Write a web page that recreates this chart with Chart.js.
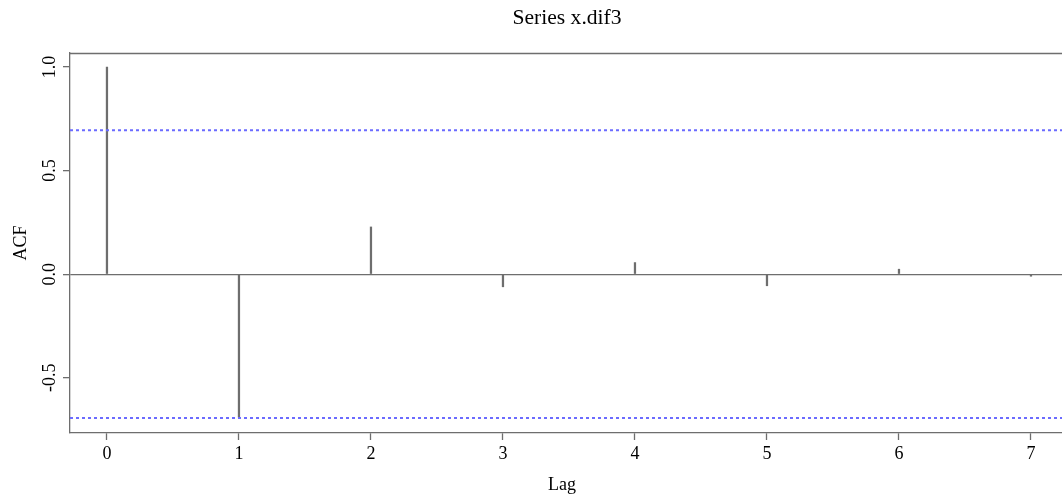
<!DOCTYPE html>
<html>
<head>
<meta charset="utf-8">
<script src="https://cdn.jsdelivr.net/npm/chart.js@4.4.1/dist/chart.umd.min.js"></script>
<style>
html,body{margin:0;padding:0;background:#fff;overflow:hidden;}
#wrap{width:1062px;height:497px;position:relative;}
</style>
</head>
<body>
<div id="wrap"><canvas id="c" width="1062" height="497"></canvas></div>
<script>
// ---- data ----
const title = "Series x.dif3";
const xLabel = "Lag";
const yLabel = "ACF";
const lags = [0, 1, 2, 3, 4, 5, 6, 7];
const acf = [1.0, -0.69, 0.228, -0.061, 0.056, -0.056, 0.024, -0.01];
const ciUpper = 0.695;
const ciLower = -0.695;
const xTicks = [0, 1, 2, 3, 4, 5, 6, 7];
const yTicks = [-0.5, 0, 0.5, 1.0];
const yTickLabels = ["-0.5", "0.0", "0.5", "1.0"];
const xRange = [-0.28, 7.235];
const yRange = [-0.767, 1.068];

const FONT = "'Liberation Serif', 'Times New Roman', serif";
const GRAY = '#6e6e6e';

const framePlugin = {
  id: 'frame',
  afterDraw(chart) {
    const {ctx, chartArea: a, scales} = chart;
    ctx.save();
    // top border
    ctx.strokeStyle = GRAY; ctx.lineWidth = 1.3;
    ctx.beginPath(); ctx.moveTo(a.left, a.top + 0.5); ctx.lineTo(a.right, a.top + 0.5); ctx.stroke();
    // y tick labels rotated
    ctx.fillStyle = '#000';
    ctx.font = '18px ' + FONT;
    ctx.textAlign = 'center'; ctx.textBaseline = 'middle';
    yTicks.forEach((v, i) => {
      const y = scales.y.getPixelForValue(v);
      ctx.save(); ctx.translate(50, y); ctx.rotate(-Math.PI / 2);
      ctx.fillText(yTickLabels[i], 0, 0); ctx.restore();
    });
    // axis titles
    ctx.save(); ctx.translate(21, (a.top + a.bottom) / 2); ctx.rotate(-Math.PI / 2);
    ctx.fillText(yLabel, 0, 0); ctx.restore();
    ctx.fillText(xLabel, 562, 485);
    ctx.font = '21.6px ' + FONT;
    ctx.fillText(title, 567, 18);
    ctx.restore();
  }
};

new Chart(document.getElementById('c'), {
  type: 'bar',
  data: {
    datasets: [
      {
        type: 'bar',
        data: lags.map((l, i) => ({x: l, y: acf[i]})),
        backgroundColor: GRAY,
        borderWidth: 0,
        barThickness: 1.6,
        order: 2
      },
      {
        type: 'line',
        data: xRange.map(x => ({x: x, y: ciUpper})),
        borderColor: '#6b6bff',
        borderWidth: 2,
        borderDash: [3, 3],
        pointRadius: 0,
        fill: false,
        order: 1
      },
      {
        type: 'line',
        data: xRange.map(x => ({x: x, y: ciLower})),
        borderColor: '#6b6bff',
        borderWidth: 2,
        borderDash: [3, 3],
        pointRadius: 0,
        fill: false,
        order: 1
      }
    ]
  },
  options: {
    responsive: false,
    animation: false,
    events: [],
    layout: {padding: {top: 53, left: 0, right: 0, bottom: 0}},
    plugins: {legend: {display: false}, tooltip: {enabled: false}, title: {display: false}},
    scales: {
      x: {
        type: 'linear',
        offset: false,
        min: xRange[0], max: xRange[1],
        afterBuildTicks(scale) { scale.ticks = xTicks.map(v => ({value: v})); },
        afterFit(scale) { scale.height = 64; },
        grid: {offset: false, drawOnChartArea: false, drawTicks: true, tickLength: 7, tickColor: GRAY, tickWidth: 1.3},
        border: {display: true, color: GRAY, width: 1.3},
        ticks: {color: '#000', font: {family: FONT, size: 18}, padding: 3, maxRotation: 0, autoSkip: false}
      },
      y: {
        type: 'linear',
        min: yRange[0], max: yRange[1],
        afterBuildTicks(scale) { scale.ticks = yTicks.map(v => ({value: v})); },
        afterFit(scale) { scale.width = 70; },
        grid: {
          drawOnChartArea: true, drawTicks: true, tickLength: 7,
          color: c => (c.tick && c.tick.value === 0) ? GRAY : 'rgba(0,0,0,0)',
          lineWidth: 1.3,
          tickColor: GRAY, tickWidth: 1.3
        },
        border: {display: true, color: GRAY, width: 1.3},
        ticks: {display: false}
      }
    }
  },
  plugins: [framePlugin]
});
</script>
</body>
</html>
